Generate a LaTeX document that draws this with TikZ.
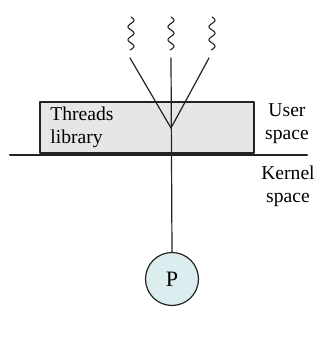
\documentclass[tikz,border=0pt]{standalone}
\usepackage{fontspec}
\setmainfont{Liberation Serif}
\usepackage{xcolor}

\begin{document}
\begin{tikzpicture}[
    x=0.5pt, y=-0.5pt,
    line cap=round,
    line join=round,
    every node/.style={font=\fontsize{9.8}{11.5}\selectfont}
]

\definecolor{libgray}{RGB}{229,230,232}
\definecolor{proccyan}{RGB}{220,237,240}
\definecolor{inkgray}{RGB}{35,35,35}

\useasboundingbox (0,0) rectangle (329,338);

% -----------------------------
% Threads library box
% -----------------------------
\node[draw=inkgray, line width=0.6pt, fill=libgray, rectangle,
      minimum width=107pt, minimum height=25.5pt, inner sep=0pt]
  (lib) at (147,127.5) {};

\node[anchor=west, align=left, inner sep=0pt] (libtxt) at (50,127.5)
  {Threads\\library};

% -----------------------------
% User threads
% -----------------------------
\coordinate (tl) at (130,58);
\coordinate (tm) at (171,58);
\coordinate (tr) at (209,58);
\coordinate (join) at (171,128);

\foreach \xx in {131,171,212} {
  \draw[inkgray, line width=0.55pt]
    plot[domain=0:33, samples=50, smooth] ({\xx+3*sin(\x*360/13)}, {17+\x});
}

\draw[inkgray, line width=0.6pt] (tl) -- (join);
\draw[inkgray, line width=0.6pt] (tr) -- (join);

% -----------------------------
% Kernel boundary
% -----------------------------
\coordinate (kl) at (10,155);
\coordinate (kr) at (307,155);
\draw[inkgray, line width=1.1pt] (kl) -- (kr);

\node[align=center, inner sep=0pt] (user) at (287,124) {User\\space};
\node[align=center, inner sep=0pt] (kern) at (288,186) {Kernel\\space};

% -----------------------------
% Process
% -----------------------------
\node[draw=inkgray, line width=0.6pt, fill=proccyan, circle,
      minimum size=26.5pt, inner sep=0pt,
      font=\fontsize{11}{13}\selectfont] (proc) at (172,279) {P};

\draw[inkgray, line width=0.6pt] (tm) -- (proc.north);

\end{tikzpicture}
\end{document}
